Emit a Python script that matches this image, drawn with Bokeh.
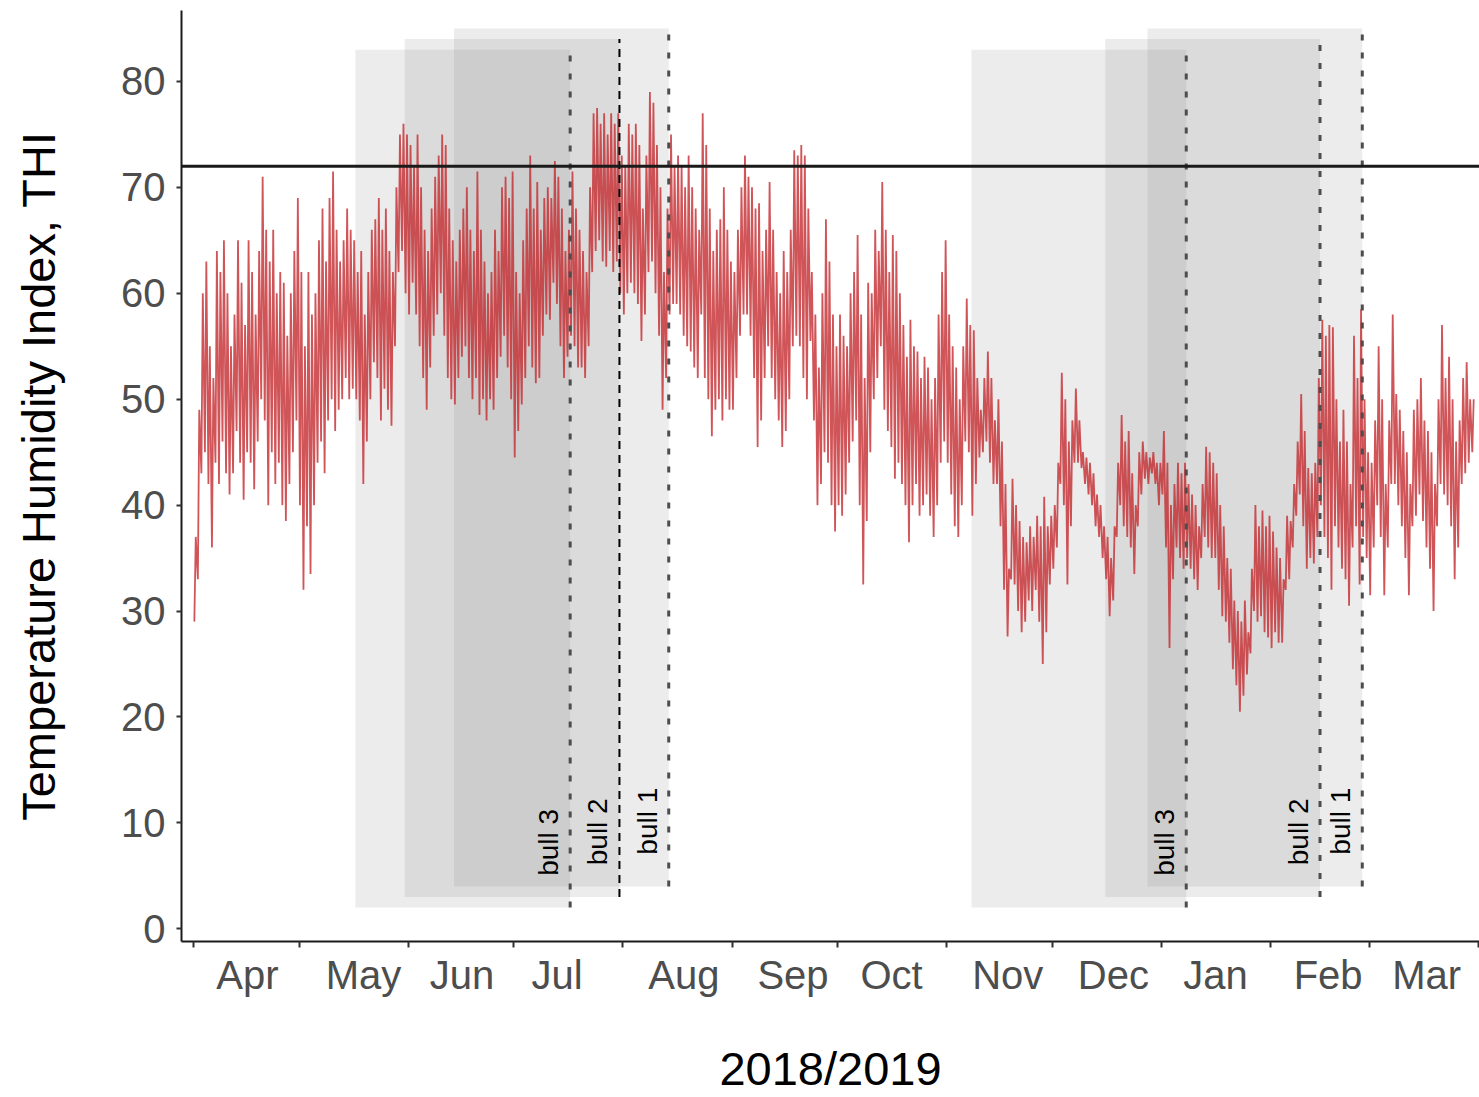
import math
import pandas as pd
from bokeh.plotting import figure
from bokeh.models import Range1d, FixedTicker, Span
from bokeh.core.properties import value
from bokeh.embed import file_html
from bokeh.resources import INLINE

# ---------------- data ----------------
start_date = "2018-04-01"
month_labels = ["Apr", "May", "Jun", "Jul", "Aug", "Sep", "Oct", "Nov", "Dec", "Jan", "Feb", "Mar"]
month_label_dates = ["2018-04-16", "2018-05-19", "2018-06-16", "2018-07-13", "2018-08-18", "2018-09-18",
                     "2018-10-16", "2018-11-18", "2018-12-18", "2019-01-16", "2019-02-17", "2019-03-17"]
y_ticks = [0, 10, 20, 30, 40, 50, 60, 70, 80]
thi_threshold = 72

# daily maximum THI, one value per day from 1 Apr 2018
daily_high = [
    37, 49, 60, 63, 55, 52, 64, 62, 65, 60,
    55, 58, 65, 61, 57, 65, 62, 58, 64, 71,
    66, 63, 66, 60, 62, 61, 56, 60, 64, 69,
    62, 55, 62, 58, 60, 65, 68, 63, 69, 71.5,
    66, 63, 65, 68, 66, 65, 62, 64, 58, 62,
    66, 67, 69, 66, 68, 64, 62, 70, 75, 76,
    75, 74, 72, 75, 70, 66, 64, 68, 71, 73,
    75, 74, 68, 65, 63, 66, 68, 70, 66, 64,
    71.5, 66, 63, 60, 62, 66, 64, 70, 71, 69,
    71.5, 62, 60, 65, 68, 73, 68, 70.5, 66, 69,
    70, 69, 72.5, 71, 68, 64, 66, 71.5, 68, 66,
    64, 62, 70, 77, 77.5, 76, 77, 75, 77, 76,
    77, 73, 72, 76, 75, 76, 74, 68, 73, 79,
    78, 74, 70, 62, 68, 75, 72, 73, 72, 70,
    73, 70, 68, 66, 77, 74, 68, 64, 66, 67,
    70, 66, 63, 62, 66, 70, 73, 71, 70, 68,
    68.5, 64, 66, 70.5, 66, 62, 60, 64, 62, 66,
    73.5, 73, 74, 73, 68, 62, 58, 53, 60, 67,
    63, 58, 55, 58, 56, 55, 60, 62, 65.5, 58,
    52, 61, 60, 66, 64, 70.5, 66, 62, 65.5, 64,
    60, 57, 54, 57.5, 55, 54.5, 52, 54, 53, 50,
    52, 58, 62, 65, 58, 55, 53, 50, 55, 59.5,
    57, 56.5, 52, 49, 52, 54.5, 52, 48, 50, 46,
    42, 34, 42.5, 40, 38.5, 37, 36.5, 38, 37, 39,
    38, 40.8, 38, 39, 40, 44, 52.5, 50, 46, 48,
    51, 48, 45, 44.5, 44, 43, 41, 40, 38, 37,
    35, 38, 44, 48.5, 46, 47, 43, 40, 45, 46,
    45, 44.5, 45, 44, 44, 47, 44, 40, 42, 44,
    43, 44, 42, 41, 40, 38, 42, 45.5, 45, 44,
    43, 40, 38, 35, 34, 31, 30, 29, 31, 28,
    34, 40, 38, 39.5, 38, 39, 37.5, 36, 35, 33,
    39, 38.5, 42, 46, 50.5, 47, 43.5, 43, 44, 52,
    57.5, 56, 57, 56.8, 50, 46, 49, 46, 42, 56,
    52, 58.5, 50, 45, 44, 48, 55, 50, 42, 48,
    58, 50.5, 49, 47, 45, 42, 49, 50, 52, 48,
    47, 45, 42, 50, 57, 52, 54, 50, 46, 48,
    52, 53.5, 50, 50,
]

# daily minimum THI
daily_low = [
    29, 33, 43, 45, 42, 36, 44, 42, 46, 43,
    41, 43, 47, 44, 40.5, 45, 44, 41.5, 46, 50,
    48, 40, 45, 42, 44, 40, 38.5, 42, 45, 48,
    40, 32, 38, 33.5, 40, 44, 46, 43, 48, 50,
    47, 49, 50, 52, 50, 51, 50, 48, 42, 46,
    50, 53.5, 52, 48, 51, 49, 47.5, 55, 62, 64,
    60, 58, 61, 58, 55, 52, 49, 53, 56, 58,
    60, 56, 52, 50, 49.5, 52, 54, 55, 52, 50,
    52, 48.5, 50, 48, 50, 49, 52, 54, 56, 53,
    50, 44.5, 47, 49.5, 52, 55, 53, 51.5, 52, 56,
    58, 57.5, 61, 59, 55, 52, 54, 56, 55, 53,
    53, 52, 55, 62, 64, 65, 63, 62.5, 64, 62,
    63, 60, 58, 60, 61, 60, 59, 55.5, 58, 62,
    63, 60, 56, 49, 52, 58, 59, 59, 58, 56,
    55, 54.5, 53, 52, 58, 52, 50, 46.5, 49, 50,
    48, 50, 49, 49, 52, 56, 58, 58, 56, 52,
    45.5, 48, 52, 55, 52, 50, 48, 45.5, 47, 50,
    55, 56, 55, 52, 50, 55.5, 48, 40, 42, 45,
    44, 40, 37.5, 40, 39, 41, 44, 46, 48, 40,
    32.5, 38.5, 45, 50, 52, 55, 49, 47, 45.5, 42.5,
    44, 42, 40, 36.5, 40, 42, 39, 40, 41, 39,
    37, 40, 44, 46, 44, 41, 38, 37, 40, 46,
    45, 39, 42, 44.5, 45, 46, 44, 42, 42, 38,
    32, 27.6, 33, 32.5, 30, 28, 29, 31, 30, 32,
    29, 25, 28, 32.5, 34, 36, 42, 40, 32.5, 38,
    44, 44, 43.5, 42, 41, 40, 38, 37, 35, 33,
    29.5, 31, 37, 40, 38, 37, 36, 33.5, 38, 41,
    42.5, 42, 43, 42, 40, 41, 36, 26.5, 33, 36,
    35, 34, 35, 34, 33, 32, 35, 37, 36, 35,
    35, 32, 29.5, 29, 27, 24.5, 23, 20.5, 22, 24,
    26, 30, 29, 29.5, 28, 27.5, 26.5, 28, 27, 27,
    32, 33, 36, 39, 41, 38, 34, 35, 34.5, 37,
    40, 37, 35, 32, 38, 36, 34, 33, 30.5, 36,
    38, 32.5, 37, 35, 31.5, 36, 40, 37, 31.5, 36,
    42, 42, 40, 38, 35, 31.5, 38, 39, 41, 38.5,
    36, 34, 30, 38, 42, 41, 40, 38, 33, 36,
    42, 43, 44, 45,
]

bull_names = ["bull 3", "bull 2", "bull 1"]
summer_start = ["2018-05-17", "2018-05-31", "2018-06-14"]
summer_end = ["2018-07-17", "2018-07-31", "2018-08-14"]
winter_start = ["2018-11-08", "2018-12-16", "2018-12-28"]
winter_end = ["2019-01-08", "2019-02-15", "2019-02-27"]

# ---------------- helpers ----------------
t0 = pd.Timestamp(start_date)


def to_day(s):
    return (pd.Timestamp(s) - t0).days


month_starts = pd.date_range(start_date, "2019-04-01", freq="MS")
month_start_days = [(d - t0).days for d in month_starts]
label_days = [to_day(s) + 0.3 for s in month_label_dates]

n = min(len(daily_high), len(daily_low))
xs, ys = [], []
for d in range(n):
    xs += [d + 0.25, d + 0.65]
    ys += [daily_low[d], daily_high[d]]

# ---------------- figure ----------------
p = figure(width=1479, height=1097, output_backend="svg", toolbar_location=None,
           x_range=Range1d(-3.4, 365.3), y_range=Range1d(-1.2, 86.7),
           min_border_left=181, min_border_right=0, min_border_top=10, min_border_bottom=155)
p.outline_line_color = None
p.xgrid.visible = False
p.ygrid.visible = False
p.background_fill_color = "white"
p.border_fill_color = "white"

FONT = "Liberation Sans"

# shaded periods
for starts, ends in ((summer_start, summer_end), (winter_start, winter_end)):
    lefts = [to_day(s) for s in starts]
    rights = [to_day(e) for e in ends]
    bottoms = [2 + i for i in range(3)]
    tops = [83 + i for i in range(3)]
    p.quad(left=lefts, right=rights, bottom=bottoms, top=tops,
           fill_color="#808080", fill_alpha=0.15, line_color=None)

# THI series
p.line(xs, ys, line_color="#c42a2f", line_width=1.8, line_alpha=0.8)

# dashed bull lines
for season, ends in (("summer", summer_end), ("winter", winter_end)):
    for i, e in enumerate(ends):
        d = to_day(e)
        if season == "summer" and i == 1:
            p.segment(x0=[d], y0=[2 + i], x1=[d], y1=[83 + i],
                      line_color="black", line_width=2, line_dash="8 6")
        else:
            p.segment(x0=[d], y0=[2 + i], x1=[d], y1=[83 + i],
                      line_color="#4d4d4d", line_width=3, line_dash="6 12")
    p.text(x=[to_day(e) for e in ends], y=[5 + i for i in range(3)], text=bull_names,
           angle=math.pi / 2, text_align="left", text_baseline="bottom", x_offset=-6,
           text_font=value(FONT), text_font_size="28px", text_color="black")

p.add_layout(Span(location=thi_threshold, dimension="width", line_color="#1a1a1a", line_width=3))

# axes
xa = p.xaxis[0]
xa.ticker = FixedTicker(ticks=label_days, minor_ticks=month_start_days)
xa.major_label_overrides = {d: lab for d, lab in zip(label_days, month_labels)}
xa.major_tick_out = 0
xa.major_tick_in = 0
xa.minor_tick_out = 6
xa.minor_tick_in = 0
xa.minor_tick_line_color = "#333333"
xa.minor_tick_line_width = 2
xa.axis_line_color = "#1a1a1a"
xa.axis_line_width = 2
xa.major_label_text_font = FONT
xa.major_label_text_font_size = "40px"
xa.major_label_text_color = "#4d4d4d"
xa.major_label_standoff = 5
xa.axis_label = "2018/2019"
xa.axis_label_text_font = FONT
xa.axis_label_text_font_size = "47px"
xa.axis_label_text_font_style = "normal"
xa.axis_label_text_color = "black"
xa.axis_label_text_line_height = 0.85
xa.axis_label_standoff = 42

ya = p.yaxis[0]
ya.ticker = FixedTicker(ticks=y_ticks)
ya.minor_tick_line_color = None
ya.major_tick_out = 5
ya.major_tick_in = 0
ya.major_tick_line_color = "#333333"
ya.major_tick_line_width = 2
ya.axis_line_color = "#1a1a1a"
ya.axis_line_width = 2
ya.major_label_text_font = FONT
ya.major_label_text_font_size = "40px"
ya.major_label_text_color = "#4d4d4d"
ya.major_label_standoff = 11
ya.axis_label = "Temperature Humidity Index, THI"
ya.axis_label_text_font = FONT
ya.axis_label_text_font_size = "47px"
ya.axis_label_text_font_style = "normal"
ya.axis_label_text_color = "black"
ya.axis_label_standoff = 53

open("out.html", "w").write(file_html(p, INLINE))
